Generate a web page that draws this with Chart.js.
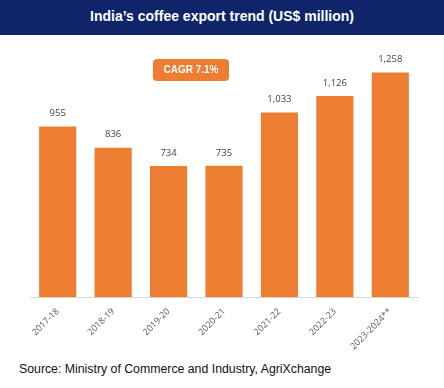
<!DOCTYPE html>
<html>
<head>
<meta charset="utf-8">
<script src="https://cdn.jsdelivr.net/npm/chart.js@4/dist/chart.umd.min.js"></script>
<style>
	html, body { margin: 0; padding: 0; background: #fff; }
	body { width: 444px; height: 388px; position: relative; overflow: hidden; }
	#title {
		position: absolute; left: 0; top: 0; width: 444px; height: 35px;
		background: #0f2469; color: #fff; text-align: center;
		font: bold 14px "Liberation Sans", Arial, sans-serif; line-height: 33px;
	}
	#wrap { position: absolute; left: 0; top: 35px; width: 444px; height: 318px; }
	#source {
		position: absolute; left: 19px; top: 362px;
		font: 12.3px "Liberation Sans", Arial, sans-serif; color: #111;
	}
</style>
</head>
<body>
<div id="title">India’s coffee export trend (US$ million)</div>
<div id="wrap"><canvas id="chart"></canvas></div>
<div id="source">Source: Ministry of Commerce and Industry, AgriXchange</div>
<script>
'use strict';
const years = ["2017-18", "2018-19", "2019-20", "2020-21", "2021-22", "2022-23", "2023-2024**"];
const exportValues = [955, 836, 734, 735, 1033, 1126, 1258];
const cagrText = "CAGR 7.1%";
const barColor = "#ed7d31";

// value labels above each bar
const valueLabels = {
	id: "valueLabels",
	afterDatasetsDraw(chart) {
		const ctx = chart.ctx;
		const meta = chart.getDatasetMeta(0);
		ctx.save();
		ctx.font = "9.5px 'Open Sans'";
		ctx.fillStyle = "#404040";
		ctx.textAlign = "center";
		ctx.textBaseline = "middle";
		meta.data.forEach((bar, i) => {
			ctx.fillText(exportValues[i].toLocaleString("en-US"), bar.x, bar.y - 13);
		});
		ctx.restore();
	}
};

// the rounded CAGR badge
const cagrBadge = {
	id: "cagrBadge",
	afterDraw(chart) {
		const ctx = chart.ctx;
		const x = 153, y = 24, w = 76, h = 22;
		ctx.save();
		ctx.fillStyle = barColor;
		ctx.beginPath();
		ctx.roundRect(x, y, w, h, 4);
		ctx.fill();
		ctx.fillStyle = "#fff";
		ctx.font = "bold 10px 'Liberation Sans'";
		ctx.textAlign = "center";
		ctx.textBaseline = "middle";
		ctx.fillText(cagrText, x + w / 2, y + h / 2 + 0.5);
		ctx.restore();
	}
};

const load = () => {
	new Chart(document.getElementById("chart"), {
		type: "bar",
		data: {
			labels: years,
			datasets: [{
				data: exportValues,
				backgroundColor: barColor,
				categoryPercentage: 1,
				barPercentage: 0.67
			}]
		},
		options: {
			responsive: true,
			maintainAspectRatio: false,
			animation: false,
			layout: { padding: { left: 30, right: 26, top: 12, bottom: 0 } },
			plugins: { legend: { display: false }, tooltip: { enabled: false } },
			scales: {
				x: {
					grid: { display: false },
					border: { display: true, color: "#d9d9d9", width: 1 },
					ticks: {
						minRotation: 45, maxRotation: 45, padding: 1,
						color: "#595959", font: { family: "Open Sans", size: 9 }
					}
				},
				y: { display: false, min: 0, max: 1400 }
			}
		},
		plugins: [valueLabels, cagrBadge]
	});
};
window.addEventListener("load", () => load());
</script>
</body>
</html>
